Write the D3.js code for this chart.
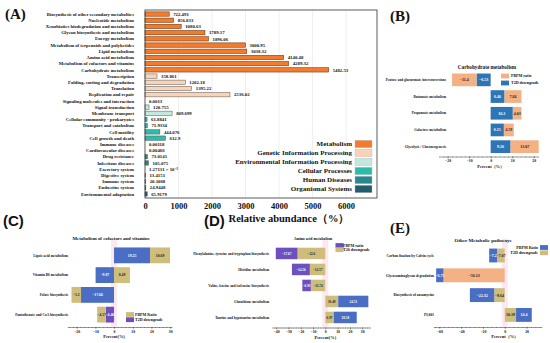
<!DOCTYPE html>
<html>
<head>
<meta charset="utf-8">
<script src="https://cdn.jsdelivr.net/npm/d3@7"></script>
<style>
body { margin: 0; background: #fff; }
svg text { font-family: "Liberation Serif", "Times New Roman", serif; font-weight: bold; fill: #111; }
</style>
</head>
<body>
<div id="chart"></div>
<script>
// (A) KEGG level 2 relative abundance
var aCategories = [
    "Biosynthesis of other secondary metabolites", "Nucleotide metabolism",
    "Xenobiotics biodegradation and metabolism", "Glycan biosynthesis and metabolism",
    "Energy metabolism", "Metabolism of terpenoids and polyketides", "Lipid metabolism",
    "Amino acid metabolism", "Metabolism of cofactors and vitamins", "Carbohydrate metabolism",
    "Transcription", "Folding, sorting and degradation", "Translation", "Replication and repair",
    "Signaling molecules and interaction", "Signal transduction", "Membrane transport",
    "Cellular community - prokaryotes", "Transport and catabolism", "Cell motility",
    "Cell growth and death", "Immune diseases", "Cardiovascular diseases", "Drug resistance",
    "Infectious diseases", "Excretory system", "Digestive system", "Immune system",
    "Endocrine system", "Environmental adaptation"
]
var aValues = [722.491, 856.833, 1080.63, 1789.17, 1896.06, 3000.95, 3038.32, 4140.48, 4289.32, 5482.53,
    358.861, 1202.18, 1395.22, 2536.02,
    0.0013, 120.755, 809.699,
    61.8841, 71.9334, 444.076, 612.9,
    0.00118, 0.00466, 73.0141, 105.075,
    0.00127131, 13.4151, 20.1068, 24.9448, 65.9179]
var aValueLabels = ["722.491", "856.833", "1080.63", "1789.17", "1896.06", "3000.95", "3038.32", "4140.48", "4289.32", "5482.53",
    "358.861", "1202.18", "1395.22", "2536.02",
    "0.0013", "120.755", "809.699",
    "61.8841", "71.9334", "444.076", "612.9",
    "0.00118", "0.00466", "73.0141", "105.075",
    "1.27131 × 10⁻³", "13.4151", "20.1068", "24.9448", "65.9179"]
var aGroupNames = ["Metabolism", "Genetic Information Processing", "Environmental Information Processing",
    "Cellular Processes", "Human Diseases", "Organismal Systems"]
var aGroupSizes = [10, 4, 3, 4, 4, 5]
var aTicks = [0, 1000, 2000, 3000, 4000, 5000, 6000]

// (B) Carbohydrate metabolism
var bCategories = ["Pentose and glucuronate interconversions", "Butanoate metabolism",
    "Propanoate metabolism", "Galactose metabolism", "Glycolysis / Gluconeogenesis"]
var bT2D = [-6.53, 6.46, 10.3, 6.15, 9.26]
var bPBPM = [-11.4, 7.84, 4.03, 4.59, 13.07]
var bTicks = [-20, -10, 0, 10, 20]

// (C) Metabolism of cofactors and vitamins
var cCategories = ["Lipoic acid metabolism", "Vitamin B6 metabolism", "Folate biosynthesis",
    "Pantothenate and CoA biosynthesis"]
var cT2D = [19.25, -9.87, -17.66, -4.46]
var cPBPM = [10.69, 8.49, -5.1, -4.57]
var cTicks = [-20, -10, 0, 10, 20, 30]

// (D) Amino acid metabolism
var dCategories = ["Phenylalanine, tyrosine and tryptophan biosynthesis", "Histidine metabolism",
    "Valine, leucine and isoleucine biosynthesis", "Glutathione metabolism",
    "Taurine and hypotaurine metabolism"]
var dT2D = [-22.6, -12.57, -11.74, 10.49, 6.97]
var dPBPM = [-17.67, -14.56, -6.93, 24.51, 18.58]
var dTicks = [-40, -30, -20, -10, 0, 10, 20, 30]

// (E) Other metabolic pathways
var eCategories = ["Carbon fixation by Calvin cycle", "Glycosaminoglycan degradation",
    "Biosynthesis of ansamycins", "PI;001"]
var eT2D = [-7.07, -56.13, -9.64, 10.39]
var ePBPM = [-7.2, -6.75, -22.32, 14.4]
var eTicks = [-60, -40, -20, 0, 20]

var groupColors = ["#f47b2b", "#fad3b6", "#c3e9dd", "#2dbcaa", "#2a8790", "#215d6c"]
var peach = "#f4b183", blue2 = "#2e75b6", blue = "#4a6ec4", tan = "#cfbd7c", purple = "#6e4fc0"

var svg = d3.select("#chart").append("svg")
    .attr("width", 550)
    .attr("height", 343)

// ---------- panel A ----------
var groupOf = []
aGroupSizes.forEach(function (n, gi) {
    for (var k = 0; k < n; k++) groupOf.push(gi)
})

var ax = d3.scaleLinear().domain([0, 6925]).range([145, 377])
var ay = d3.scaleBand().domain(aCategories).range([10, 198]).padding(0.3)

var gA = svg.append("g")

gA.selectAll(".grid").data(aTicks.slice(1)).enter().append("line")
    .attr("x1", function (d) { return ax(d) }).attr("x2", function (d) { return ax(d) })
    .attr("y1", 10).attr("y2", 198)
    .attr("stroke", "#e4e4e4").attr("stroke-width", 0.6)

gA.selectAll(".abar").data(aValues).enter().append("rect")
    .attr("x", ax(0))
    .attr("y", function (d, i) { return ay(aCategories[i]) })
    .attr("width", function (d) { return ax(d) - ax(0) })
    .attr("height", ay.bandwidth())
    .attr("fill", function (d, i) { return groupColors[groupOf[i]] })
    .attr("stroke", function (d, i) { return groupOf[i] == 0 ? "#5a2a0a" : "#555" })
    .attr("stroke-width", function (d) { return d > 1 ? 0.5 : 0 })

gA.selectAll(".aval").data(aValues).enter().append("text")
    .attr("x", function (d) { return ax(d) + 4 })
    .attr("y", function (d, i) { return ay(aCategories[i]) + ay.bandwidth() / 2 })
    .attr("dy", "0.35em")
    .style("font-size", "4.8px")
    .text(function (d, i) { return aValueLabels[i] })

gA.selectAll(".acat").data(aCategories).enter().append("text")
    .attr("x", 134)
    .attr("y", function (d) { return ay(d) + ay.bandwidth() / 2 })
    .attr("dy", "0.35em")
    .attr("text-anchor", "end")
    .style("font-size", "4.7px")
    .text(function (d) { return d })

// frame
gA.append("rect").attr("x", 145).attr("y", 10).attr("width", 232).attr("height", 188)
    .attr("fill", "none").attr("stroke", "#333").attr("stroke-width", 0.8)

var axA = gA.append("g")
    .attr("transform", "translate(0,198)")
    .call(d3.axisBottom(ax).tickValues(aTicks).tickSize(0).tickPadding(5).tickFormat(d3.format("d")))
axA.select(".domain").remove()
axA.selectAll("text").style("font-size", "8.5px")

gA.append("text").attr("x", 289).attr("y", 222)
    .attr("text-anchor", "middle").style("font-size", "10.5px")
    .text("Relative abundance（%）")

// legend A
aGroupNames.forEach(function (name, i) {
    var cy = 144 + i * 9
    gA.append("rect").attr("x", 355).attr("y", cy - 3.7).attr("width", 17).attr("height", 7.4)
        .attr("fill", groupColors[i]).attr("stroke", "#bbb").attr("stroke-width", 0.4)
    gA.append("text").attr("x", 352).attr("y", cy).attr("dy", "0.35em")
        .attr("text-anchor", "end").style("font-size", "7px").text(name)
})

// panel letters
var letters = [["(A)", 5, 19, "serif"], ["(B)", 390, 21, "serif"], ["(C)", 3, 226, "sans"],
    ["(D)", 204, 226, "sans"], ["(E)", 390, 233, "serif"]]
letters.forEach(function (l) {
    svg.append("text").attr("x", l[1]).attr("y", l[2])
        .style("font-size", "15px")
        .style("font-family", l[3] == "sans" ? "'Liberation Sans', Arial, sans-serif" : null)
        .text(l[0])
})

// ---------- diverging panels ----------
function diverging(p) {
    var x = d3.scaleLinear().domain(p.domain).range(p.xRange)
    var y = d3.scaleBand().domain(p.categories).range(p.yRange).padding(p.padding)
    var g = svg.append("g")

    if (p.strip) {
        g.append("rect").attr("x", x(0) - 3).attr("y", p.yRange[0] - 4)
            .attr("width", 6).attr("height", p.axisY - p.yRange[0] + 4)
            .attr("fill", "#fde8f2")
    }

    var segs = []
    p.categories.forEach(function (c, i) {
        var a = p.inner[i], b = p.outer[i]
        segs.push({ cat: c, x0: 0, x1: a, v: a, fill: p.innerColors[i] })
        var start = a * b > 0 ? a : 0
        segs.push({ cat: c, x0: start, x1: start + b, v: b, fill: p.outerColors[i] })
    })

    g.selectAll(".seg").data(segs).enter().append("rect")
        .attr("x", function (d) { return x(Math.min(d.x0, d.x1)) })
        .attr("width", function (d) { return Math.abs(x(d.x1) - x(d.x0)) })
        .attr("y", function (d) { return y(d.cat) })
        .attr("height", y.bandwidth())
        .attr("fill", function (d) { return d.fill })

    g.selectAll(".segl").data(segs).enter().append("text")
        .attr("x", function (d) { return (x(d.x0) + x(d.x1)) / 2 })
        .attr("y", function (d) { return y(d.cat) + y.bandwidth() / 2 })
        .attr("dy", "0.35em")
        .attr("text-anchor", "middle")
        .style("font-size", p.valueSize + "px")
        .style("fill", function (d) { return (d.fill == peach || d.fill == tan) ? "#222" : "#fff" })
        .text(function (d) { return String(d.v).replace("-", "−") })

    g.selectAll(".cat").data(p.categories).enter().append("text")
        .attr("x", p.labelX)
        .attr("y", function (d) { return y(d) + y.bandwidth() / 2 })
        .attr("dy", "0.35em")
        .attr("text-anchor", "end")
        .style("font-size", p.catSize + "px")
        .text(function (d) { return d })

    // minor + major ticks
    var minor = d3.range(Math.ceil(p.domain[0] / p.minorStep) * p.minorStep, p.domain[1] + 0.001, p.minorStep)
    g.append("g").attr("transform", "translate(0," + p.axisY + ")")
        .call(d3.axisBottom(x).tickValues(minor).tickSize(1).tickFormat(""))
        .call(function (s) { s.select(".domain").remove() })
        .selectAll("line").attr("stroke", "#444").attr("stroke-width", 0.4)
    var axis = g.append("g").attr("transform", "translate(0," + p.axisY + ")")
        .call(d3.axisBottom(x).tickValues(p.ticks).tickSize(1.8).tickPadding(1.2).tickSizeOuter(0))
    axis.select(".domain").attr("stroke", "#333").attr("stroke-width", 0.5)
    axis.selectAll("line").attr("stroke", "#333").attr("stroke-width", 0.5)
    axis.selectAll("text").style("font-size", "3.8px")

    g.append("text").attr("x", p.titleX).attr("y", p.titleY)
        .attr("text-anchor", "middle").style("font-size", p.titleSize + "px").text(p.title)
    g.append("text").attr("x", x(0)).attr("y", p.axisY + 11)
        .attr("text-anchor", "middle").style("font-size", "4.4px").text(p.xTitle)

    p.legend.forEach(function (l, i) {
        var cy = p.legendY + i * p.legendStep
        g.append("rect").attr("x", p.swatchX).attr("y", cy - 2.4)
            .attr("width", 8).attr("height", 4.8).attr("fill", l[1])
        g.append("text").attr("x", p.legendTextX).attr("y", cy).attr("dy", "0.35em")
            .attr("text-anchor", p.legendAnchor).style("font-size", "4px").text(l[0])
    })
}

diverging({
    categories: bCategories, inner: bT2D, outer: bPBPM,
    innerColors: bT2D.map(function () { return blue2 }), outerColors: bPBPM.map(function () { return peach }),
    domain: [-24, 22], xRange: [439, 538], yRange: [69.5, 157], padding: 0.24,
    axisY: 156.5, ticks: bTicks, minorStep: 2, labelX: 446,
    title: "Carbohydrate metabolism", titleX: 487, titleY: 69, titleSize: 5.2,
    xTitle: "Percent（%）", valueSize: 4, catSize: 3.4, strip: false,
    legend: [["PBPM ratio", peach], ["T2D downgrade", blue2]],
    legendY: 76, legendStep: 7, swatchX: 501, legendTextX: 511, legendAnchor: "start"
})

diverging({
    categories: cCategories, inner: cT2D, outer: cPBPM,
    innerColors: [blue, blue, blue, purple], outerColors: cPBPM.map(function () { return tan }),
    domain: [-25, 31], xRange: [67.3, 172], yRange: [243.5, 326.5], padding: 0.2,
    axisY: 327, ticks: cTicks, minorStep: 2, labelX: 68,
    title: "Metabolism of cofactors and vitamins", titleX: 111, titleY: 240, titleSize: 4.8,
    xTitle: "Percent(%)", valueSize: 3.8, catSize: 3.5, strip: true,
    legend: [["PBPM Ratio", tan], ["T2D downgrade", purple]],
    legendY: 314.5, legendStep: 5.2, swatchX: 126, legendTextX: 135, legendAnchor: "start"
})

diverging({
    categories: dCategories, inner: dT2D, outer: dPBPM,
    innerColors: dT2D.map(function () { return tan }), outerColors: [purple, purple, purple, blue, blue],
    domain: [-43.5, 36.5], xRange: [271.8, 370.2], yRange: [243.2, 327.7], padding: 0.28,
    axisY: 327.5, ticks: dTicks, minorStep: 2, labelX: 269,
    title: "Amino acid metabolism", titleX: 313, titleY: 240, titleSize: 3.8,
    xTitle: "Percent(%)", valueSize: 3.4, catSize: 3.4, strip: true,
    legend: [["PBPM ratio", purple], ["T20 downgrade", tan]],
    legendY: 245.5, legendStep: 4.2, swatchX: 335.5, legendTextX: 343, legendAnchor: "start"
})

diverging({
    categories: eCategories, inner: eT2D, outer: ePBPM,
    innerColors: [tan, peach, tan, tan], outerColors: ePBPM.map(function () { return blue }),
    domain: [-65.5, 34], xRange: [433.3, 541.8], yRange: [242.6, 327.8], padding: 0.3,
    axisY: 327, ticks: eTicks, minorStep: 4, labelX: 434,
    title: "Other Metabolic pathways", titleX: 483, titleY: 241.5, titleSize: 5,
    xTitle: "Percent（%）", valueSize: 4, catSize: 3.5, strip: true,
    legend: [["PBPM Ratio", blue], ["T2D downgrade", tan]],
    legendY: 247.5, legendStep: 5.3, swatchX: 540, legendTextX: 538, legendAnchor: "end"
})
</script>
</body>
</html>
